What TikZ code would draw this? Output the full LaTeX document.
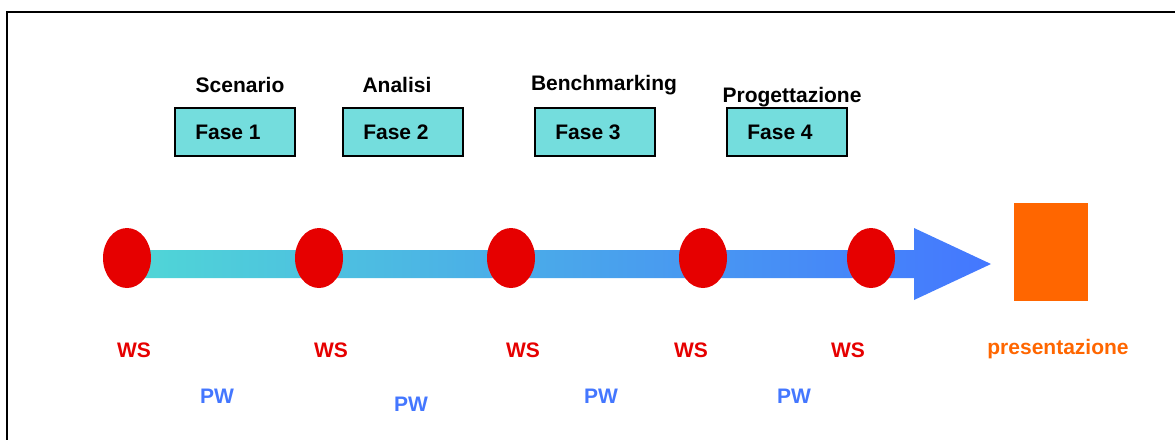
\documentclass[tikz,border=0pt]{standalone}
\usepackage{fontspec}
\setmainfont{Liberation Sans}
\usetikzlibrary{shapes.geometric}
\definecolor{faseteal}{RGB}{116,221,221}
\definecolor{wsred}{RGB}{230,0,0}
\definecolor{pwblue}{RGB}{68,119,255}
\definecolor{barcyan}{RGB}{80,215,214}
\definecolor{presorange}{RGB}{255,102,0}
\tikzset{
  lbl/.style={font=\fontsize{21}{25}\selectfont\bfseries, inner sep=0pt},
  fasebox/.style={draw=black, line width=1.5pt, fill=faseteal, minimum width=120pt, minimum height=48pt, inner sep=0pt, font=\fontsize{21}{25}\selectfont\bfseries},
  milestone/.style={ellipse, fill=wsred, minimum width=48pt, minimum height=60pt, inner sep=0pt},
  wslbl/.style={lbl, text=wsred},
  pwlbl/.style={lbl, text=pwblue}
}
% phase box text sits a little left of the box centre
\newcommand{\fasetext}[1]{#1\hspace*{14pt}}
\begin{document}
\begin{tikzpicture}[x=1pt, y=-1pt]
\useasboundingbox (0,0) rectangle (1175,440);
% frame
\draw[line width=1.6pt] (1175,12) -- (7,12) -- (7,440);

% phase titles and boxes
\node[lbl] (t1) at (240,85) {Scenario};
\node[lbl] (t2) at (397,85) {Analisi};
\node[lbl] (t3) at (604,85) {Benchmarking};
\node[lbl] (t4) at (792,97) {Progettazione};
\node[fasebox] (f1) at (235,132) {\fasetext{Fase 1}};
\node[fasebox] (f2) at (403,132) {\fasetext{Fase 2}};
\node[fasebox] (f3) at (595,132) {\fasetext{Fase 3}};
\node[fasebox] (f4) at (787,132) {\fasetext{Fase 4}};

% timeline arrow
\shade[left color=barcyan, right color=pwblue]
  (127,250) -- (914,250) -- (914,228) -- (991,264) -- (914,300) -- (914,278) -- (127,278) -- cycle;

% milestones
\node[milestone] (m1) at (127,258) {};
\node[milestone] (m2) at (319,258) {};
\node[milestone] (m3) at (511,258) {};
\node[milestone] (m4) at (703,258) {};
\node[milestone] (m5) at (871,258) {};

% final presentation block
\node[fill=presorange, minimum width=74pt, minimum height=98pt, inner sep=0pt] (pres) at (1051,252) {};
\node[lbl, text=presorange] (presl) at (1058,349) {presentazione};

% workshop labels
\node[wslbl] (ws1) at (134,350) {WS};
\node[wslbl] (ws2) at (331,350) {WS};
\node[wslbl] (ws3) at (523,350) {WS};
\node[wslbl] (ws4) at (691,350) {WS};
\node[wslbl] (ws5) at (848,350) {WS};

% project work labels
\node[pwlbl] (pw1) at (217,396) {PW};
\node[pwlbl] (pw2) at (411,404) {PW};
\node[pwlbl] (pw3) at (601,396) {PW};
\node[pwlbl] (pw4) at (794,396) {PW};
\end{tikzpicture}
\end{document}
